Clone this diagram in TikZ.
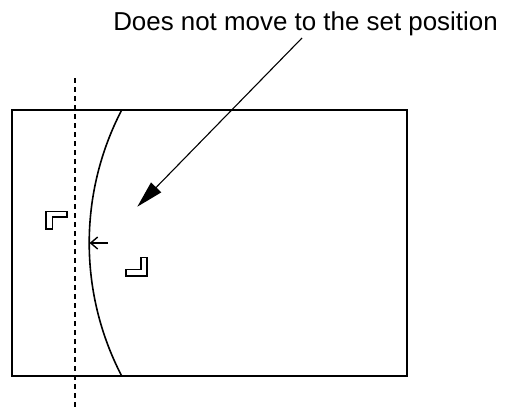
\documentclass[tikz,border=0pt]{standalone}
\usepackage{fontspec}
\setmainfont{Liberation Sans}
\usetikzlibrary{arrows.meta}
\tikzset{
  frame/.style={line width=2.2pt},
  guide/.style={line width=1.7pt, dash pattern=on 5pt off 4pt},
  markbox/.style={line width=1.6pt, line join=miter},
}
\begin{document}
\begin{tikzpicture}[x=1pt,y=-1pt]
        \useasboundingbox (0,0) rectangle (506,410);
        \draw[frame] (12,110) rectangle (407,376);
        \draw[guide] (75,78) -- (75,410);
        % bent edge of the picture
        \draw[line width=1.6pt] (121.7,110) arc[start angle=207.46, end angle=152.54, radius=288.4];
        \coordinate (edge) at (89.6,243);
        \coordinate (tail) at (108,243);
        \draw[line width=1.4pt, -{Straight Barb[length=7pt,width=12pt]}] (tail) -- (edge);
        % corner marks
        \draw[markbox] (46,211.5) -- (67,211.5) -- (67,217) -- (52.5,217) -- (52.5,229) -- (46,229) -- cycle;
        \draw[markbox] (147,257.5) -- (147,276) -- (126,276) -- (126,269.5) -- (141,269.5) -- (141,257.5) -- cycle;
        \node[anchor=base, font=\fontsize{25.9}{30}\selectfont] (label) at (305.5,30) {Does not move to the set position};
        \coordinate (start) at (302,38);
        \coordinate (tip) at (137.3,206.7);
        \draw[line width=1.1pt, -{Triangle[length=27pt,width=14pt]}] (start) -- (tip);
    \end{tikzpicture}
\end{document}
